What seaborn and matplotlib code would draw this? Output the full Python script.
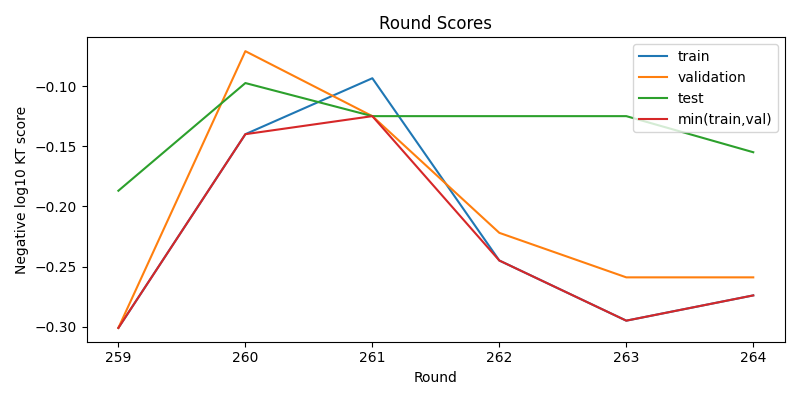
import matplotlib
matplotlib.use("Agg")
import matplotlib.pyplot as plt
import pandas as pd
import seaborn as sns

rounds = [259, 260, 261, 262, 263, 264]
train = [-0.301, -0.140, -0.0935, -0.245, -0.295, -0.274]
validation = [-0.301, -0.071, -0.125, -0.222, -0.259, -0.259]
test = [-0.187, -0.0975, -0.125, -0.125, -0.125, -0.155]
min_train_val = [-0.301, -0.140, -0.125, -0.245, -0.295, -0.274]

series = {
    "train": train,
    "validation": validation,
    "test": test,
    "min(train,val)": min_train_val,
}
df = pd.concat(
    [pd.DataFrame({"Round": rounds, "score": vals, "series": name}) for name, vals in series.items()],
    ignore_index=True,
)

fig, ax = plt.subplots(figsize=(8, 4), dpi=100)
sns.lineplot(data=df, x="Round", y="score", hue="series", palette="tab10", ax=ax)
ax.set_title("Round Scores")
ax.set_xlabel("Round")
ax.set_ylabel("Negative log10 KT score")
ax.set_xticks(rounds)
ax.legend(title=None, loc="upper right")
fig.tight_layout()
fig.savefig("out.png", dpi=100)
